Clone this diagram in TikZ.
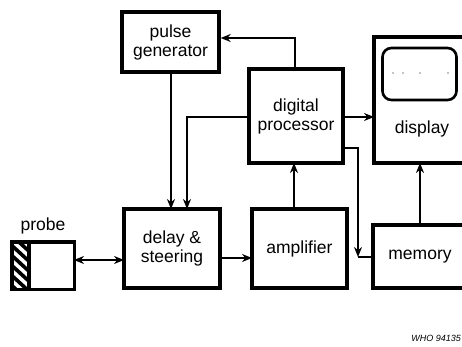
\documentclass[tikz,border=0pt]{standalone}
\usepackage{fontspec}
\setmainfont{Liberation Sans}
\usetikzlibrary{arrows.meta,calc}
\begin{document}
\begin{tikzpicture}[x=1pt,y=-1pt,
  blk/.style={draw,line width=3.4pt,rectangle,inner sep=0pt,align=center,font=\fontsize{17.5}{19}\selectfont},
  conn/.style={line width=1.7pt},
  arr/.style={conn,-{Stealth[length=10pt,width=8pt]}},
  lbl/.style={font=\fontsize{17.5}{19}\selectfont,inner sep=0pt}]
\useasboundingbox (0,0) rectangle (462,347);
\fill[white] (0,0) rectangle (462,347);
% blocks
\node[blk,minimum width=97pt,minimum height=60pt] (pulse) at (170.5,42) {pulse\\generator};
\node[blk,minimum width=94pt,minimum height=94pt] (proc) at (296,116) {digital\\processor};
\node[blk,minimum width=102pt,minimum height=126pt] (disp) at (425,100) {};
\node[lbl] (displbl) at (422,129) {display};
\node[draw,line width=2.6pt,rounded corners=9pt,minimum width=74pt,minimum height=52pt,inner sep=0pt] (screen) at (419.5,74) {};
\foreach \dx in {393,403,420,448} \fill (\dx,73) circle (0.7pt);
\node[blk,minimum width=96pt,minimum height=79pt] (delay) at (172,248.5) {delay \&\\steering};
\node[blk,minimum width=95pt,minimum height=79pt] (amp) at (299.5,248.5) {amplifier};
\node[blk,minimum width=102pt,minimum height=63pt] (mem) at (424,256.5) {};
\node[lbl] (memlbl) at (420,257) {memory};
\node[minimum width=62pt,minimum height=47pt,inner sep=0pt] (probe) at (43,265.5) {};
\node[lbl,anchor=south] (probelbl) at (43,234) {probe};
% hatching of probe tip
\begin{scope}
\clip (12,242) rectangle (29,289);
\foreach \yy in {222,232,...,302} \draw[line width=3.6pt] (8,\yy) -- (32,\yy+22);
\end{scope}
\draw[line width=3.4pt] (29,242) -- (29,289);
\draw[line width=3.4pt] (probe.south west) rectangle (probe.north east);
% connector coordinates
\coordinate (pgin) at (295,38);
\coordinate (pdown) at (171,72);
\coordinate (pdownend) at (171,209);
\coordinate (procl) at (249,117);
\coordinate (dsin) at (187,209);
\coordinate (procr) at (343,117);
\coordinate (dispin) at (374,117);
\coordinate (procr2) at (343,148);
\coordinate (c) at (358,257);
\coordinate (memin) at (373,257);
\coordinate (ampout) at (294,209);
\coordinate (procin) at (294,163);
\coordinate (dsout) at (220,258);
\coordinate (ampin) at (252,258);
\coordinate (probeout) at (74,260);
\coordinate (dsin2) at (124,260);
\coordinate (memout) at (420,225);
\coordinate (dispin2) at (420,163);
% connectors
\draw[arr] (proc.north -| pgin) |- (pulse.east |- pgin);
\draw[arr] (pdown) -- (pdownend);
\draw[arr] (procl) -| (dsin);
\draw[arr] (procr) -- (dispin);
\draw[arr] (procr2) -| (c);
\draw[conn] (c) -- (memin);
\draw[arr] (ampout) -- (procin);
\draw[arr] (dsout) -- (ampin);
\draw[conn,{Stealth[length=10pt,width=8pt]}-{Stealth[length=10pt,width=8pt]}] (probeout) -- (dsin2);
\draw[arr] (memout) -- (dispin2);
\node[anchor=base east,font=\fontsize{9}{10}\selectfont\itshape,inner sep=0pt] (who) at (461,341) {WHO 94135};
\end{tikzpicture}
\end{document}
